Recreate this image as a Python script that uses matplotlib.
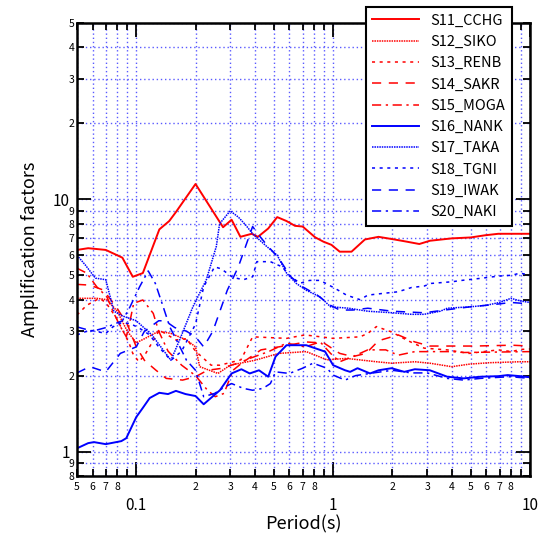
import matplotlib
matplotlib.use("Agg")
import matplotlib.pyplot as plt

plt.rcParams['font.family'] = ['Noto Sans CJK JP', 'DejaVu Sans']

# --------------------------------
# Data
# --------------------------------
s11_t = [0.05, 0.057, 0.07, 0.085, 0.096, 0.108, 0.131, 0.147, 0.159, 0.2, 0.276, 0.305, 0.338,
         0.386, 0.415, 0.468, 0.52, 0.58, 0.64, 0.70, 0.81, 0.89, 0.98, 1.08, 1.24, 1.45, 1.7,
         2.05, 2.35, 2.74, 3.1, 4.0, 5.0, 5.9, 6.9, 8.9, 10]
s11_v = [6.3, 6.4, 6.3, 5.87, 4.93, 5.1, 7.6, 8.2, 8.9, 11.5, 7.75, 8.3, 7.1,
         7.3, 7.1, 7.66, 8.5, 8.2, 7.85, 7.8, 7.07, 6.8, 6.6, 6.2, 6.2, 6.93, 7.1,
         6.93, 6.8, 6.65, 6.85, 7.0, 7.06, 7.2, 7.3, 7.3, 7.3]

s12_t = [0.05, 0.063, 0.071, 0.08, 0.09, 0.1, 0.11, 0.13, 0.15, 0.18, 0.2, 0.21, 0.26, 0.3,
         0.4, 0.53, 0.73, 0.93, 1.17, 1.66, 1.98, 2.6, 3.1, 4.0, 4.9, 6.2, 8.9, 10]
s12_v = [4.05, 4.05, 4.0, 3.6, 3.0, 2.7, 2.8, 3.0, 2.94, 2.77, 2.6, 2.17, 2.04, 2.2,
         2.3, 2.45, 2.49, 2.31, 2.34, 2.27, 2.24, 2.27, 2.24, 2.17, 2.22, 2.25, 2.27, 2.27]

s13_t = [0.05, 0.056, 0.065, 0.07, 0.079, 0.092, 0.096, 0.103, 0.11, 0.131, 0.159, 0.18, 0.2,
         0.24, 0.266, 0.34, 0.39, 0.58, 0.72, 1.0, 1.37, 1.5, 1.66, 1.98, 2.4, 2.9, 3.8, 4.9,
         6.9, 8.1, 8.9, 10]
s13_v = [3.48, 3.8, 4.05, 3.9, 3.4, 2.69, 2.45, 2.27, 2.4, 3.03, 2.77, 2.8, 2.5,
         2.2, 2.2, 2.31, 2.85, 2.81, 2.9, 2.81, 2.85, 2.94, 3.13, 2.98, 2.75, 2.57, 2.53, 2.45,
         2.53, 2.49, 2.54, 2.55]

s14_t = [0.05, 0.058, 0.068, 0.079, 0.09, 0.1, 0.11, 0.126, 0.142, 0.172, 0.2, 0.23, 0.275,
         0.36, 0.43, 0.53, 0.73, 0.9, 1.08, 1.26, 1.47, 1.7, 2.14, 2.6, 3.1, 4.0, 5.2, 8.1, 10]
s14_v = [4.6, 4.57, 4.37, 3.75, 3.2, 2.6, 2.3, 2.1, 1.95, 1.92, 1.98, 2.1, 2.14,
         2.3, 2.53, 2.6, 2.72, 2.69, 2.45, 2.38, 2.45, 2.75, 2.9, 2.72, 2.62, 2.62, 2.62, 2.64, 2.62]

s15_t = [0.05, 0.056, 0.063, 0.071, 0.077, 0.083, 0.089, 0.093, 0.097, 0.108, 0.122, 0.13,
         0.145, 0.17, 0.2, 0.23, 0.252, 0.279, 0.31, 0.36, 0.47, 0.58, 0.72, 0.86, 0.97, 1.08,
         1.26, 1.5, 1.85, 2.14, 2.6, 4.0, 4.6, 10]
s15_v = [5.33, 5.1, 4.5, 4.1, 3.53, 3.13, 2.85, 3.3, 3.87, 3.99, 3.53, 3.0,
         2.5, 2.2, 2.0, 1.75, 1.65, 1.7, 2.1, 2.31, 2.49, 2.69, 2.6, 2.72, 2.45, 2.27,
         2.38, 2.53, 2.53, 2.41, 2.49, 2.49, 2.47, 2.49]

s16_t = [0.05, 0.057, 0.061, 0.07, 0.084, 0.089, 0.1, 0.108, 0.117, 0.131, 0.145, 0.159, 0.178,
         0.2, 0.22, 0.266, 0.305, 0.342, 0.377, 0.42, 0.468, 0.51, 0.58, 0.73, 0.91, 1.0, 1.15,
         1.22, 1.33, 1.54, 1.7, 1.98, 2.3, 2.6, 3.1, 3.8, 4.6, 5.6, 6.9, 7.7, 8.9, 10]
s16_v = [1.03, 1.08, 1.09, 1.07, 1.10, 1.13, 1.37, 1.49, 1.63, 1.71, 1.69, 1.74, 1.69,
         1.66, 1.54, 1.75, 2.04, 2.12, 2.04, 2.10, 1.98, 2.38, 2.64, 2.64, 2.49, 2.2, 2.1,
         2.07, 2.14, 2.04, 2.1, 2.14, 2.07, 2.12, 2.1, 1.98, 1.95, 1.98, 1.99, 2.01, 1.99, 1.97]

s17_t = [0.05, 0.055, 0.062, 0.07, 0.077, 0.085, 0.1, 0.12, 0.15, 0.167, 0.194, 0.227, 0.255,
         0.265, 0.3, 0.33, 0.36, 0.39, 0.46, 0.52, 0.58, 0.65, 0.73, 0.86, 0.97, 1.2, 1.5, 2.0,
         2.5, 2.9, 3.5, 3.8, 5.0, 6.0, 7.0, 8.0, 9.0, 10]
s17_v = [6.0, 5.5, 4.87, 4.8, 3.6, 3.45, 3.3, 2.9, 2.3, 2.8, 3.75, 4.8, 6.5,
         8.0, 9.0, 8.5, 7.9, 7.3, 6.5, 6.0, 5.1, 4.64, 4.36, 4.1, 3.75, 3.7, 3.6, 3.55,
         3.5, 3.5, 3.6, 3.7, 3.75, 3.8, 3.9, 4.05, 3.95, 3.9]

s18_t = [0.05, 0.058, 0.07, 0.076, 0.083, 0.093, 0.104, 0.117, 0.13, 0.15, 0.17, 0.2, 0.22,
         0.25, 0.27, 0.31, 0.35, 0.39, 0.41, 0.48, 0.55, 0.61, 0.68, 0.76, 0.86, 1.02, 1.17,
         1.37, 1.5, 1.76, 2.14, 2.5, 2.9, 3.15, 4.0, 4.6, 5.6, 6.9, 8.1, 8.9, 10]
s18_v = [2.9, 3.03, 2.94, 3.12, 3.23, 3.22, 3.08, 2.9, 2.6, 2.3, 2.5, 3.2, 4.5,
         5.4, 5.3, 4.9, 4.8, 4.93, 5.66, 5.66, 5.4, 4.93, 4.65, 4.77, 4.77, 4.44, 4.17,
         4.0, 4.17, 4.23, 4.3, 4.47, 4.53, 4.64, 4.71, 4.78, 4.86, 4.96, 5.0, 5.1, 5.0]

s19_t = [0.05, 0.058, 0.07, 0.083, 0.1, 0.11, 0.13, 0.14, 0.157, 0.18, 0.2, 0.22, 0.245, 0.29,
         0.33, 0.39, 0.42, 0.46, 0.53, 0.61, 0.7, 0.83, 0.97, 1.08, 1.26, 1.5, 2.0, 2.9, 3.8,
         5.0, 6.0, 7.0, 8.0, 10]
s19_v = [2.05, 2.17, 2.07, 2.45, 2.6, 3.0, 3.3, 3.3, 3.1, 3.0, 2.85, 2.6, 3.0, 4.36,
         5.4, 7.8, 7.2, 6.6, 5.83, 4.93, 4.5, 4.17, 3.8, 3.64, 3.64, 3.7, 3.6, 3.55, 3.65,
         3.75, 3.8, 3.85, 3.9, 3.85]

s20_t = [0.05, 0.06, 0.07, 0.085, 0.093, 0.104, 0.115, 0.125, 0.137, 0.148, 0.16, 0.18, 0.2,
         0.22, 0.25, 0.28, 0.305, 0.35, 0.39, 0.44, 0.48, 0.51, 0.6, 0.7, 0.79, 0.93, 1.0, 1.15,
         1.3, 1.6, 2.0, 2.5, 3.0, 3.8, 4.6, 5.6, 7.0, 8.0, 10]
s20_v = [3.12, 3.0, 3.1, 3.3, 3.75, 4.5, 5.2, 4.64, 3.75, 3.12, 2.77, 2.3, 2.1,
         1.65, 1.7, 1.8, 1.86, 1.78, 1.75, 1.78, 1.86, 2.07, 2.04, 2.14, 2.24, 2.14, 2.01, 1.92,
         2.0, 2.05, 2.1, 2.05, 2.05, 1.95, 1.92, 1.95, 1.97, 1.98, 1.95]

station_names = ['S11_CCHG', 'S12_SIKO', 'S13_RENB', 'S14_SAKR', 'S15_MOGA',
                 'S16_NANK', 'S17_TAKA', 'S18_TGNI', 'S19_IWAK', 'S20_NAKI']

x_minor = [0.05, 0.06, 0.07, 0.08, 0.09, 0.2, 0.3, 0.4, 0.5, 0.6, 0.7, 0.8, 0.9,
           2, 3, 4, 5, 6, 7, 8, 9]
x_minor_labels = ['5', '6', '7', '8', '', '2', '3', '4', '5', '6', '7', '8', '',
                  '2', '3', '4', '5', '6', '7', '8', '']
y_minor = [0.8, 0.9, 2, 3, 4, 5, 6, 7, 8, 9, 20, 30, 40, 50]
y_minor_labels = ['8', '9', '2', '3', '4', '5', '6', '7', '8', '9', '2', '3', '4', '5']

# --------------------------------
# Plot
# --------------------------------
fig = plt.figure(figsize=(5.38, 5.41), dpi=100)
ax = fig.add_axes([77 / 538, 1 - 476 / 541, 453 / 538, 453 / 541])

series = [(s11_t, s11_v), (s12_t, s12_v), (s13_t, s13_v), (s14_t, s14_v), (s15_t, s15_v),
          (s16_t, s16_v), (s17_t, s17_v), (s18_t, s18_v), (s19_t, s19_v), (s20_t, s20_v)]
styles = ['-', (0, (1, 0.6)), (0, (2, 3)), (0, (6, 5)), (0, (6, 3, 1.5, 3)),
          '-', (0, (1, 0.6)), (0, (2, 3)), (0, (6, 5)), (0, (6, 3, 1.5, 3))]

for i, (t, v) in enumerate(series):
    color = '#ff0000' if i < 5 else '#0000ff'
    lw = 1.4 if styles[i] == '-' else 1.1
    ax.plot(t, v, color=color, linestyle=styles[i], lw=lw, label=station_names[i])

ax.set_xscale('log')
ax.set_yscale('log')
ax.set_xlim(0.05, 10)
ax.set_ylim(0.8, 50)

ax.set_xticks([0.1, 1, 10], ['0.1', '1', '10'])
ax.set_xticks(x_minor, x_minor_labels, minor=True)
ax.set_yticks([1, 10], ['1', '10'])
ax.set_yticks(y_minor, y_minor_labels, minor=True)

ax.tick_params(which='both', direction='in', top=True, right=True, width=1.3)
ax.tick_params(which='major', length=10, labelsize=11)
ax.tick_params(which='minor', length=5, labelsize=7.5)
ax.tick_params(axis='x', which='major', pad=15)
ax.tick_params(axis='x', which='minor', pad=4)
ax.tick_params(axis='y', which='minor', pad=2)
ax.tick_params(axis='y', which='major', pad=5)

ax.grid(True, which='both', color='#5a5aff', linestyle=(0, (1, 2)), lw=1.0)
for sp in ax.spines.values():
    sp.set_linewidth(1.8)

ax.set_xlabel('Period(s)', fontsize=13, labelpad=1)
ax.set_ylabel('Amplification factors', fontsize=13, labelpad=10)

leg = fig.legend(loc='upper right', bbox_to_anchor=(512 / 538, 1 - 7 / 541),
                 borderaxespad=0, fontsize=10.5, frameon=True, fancybox=False, framealpha=1,
                 edgecolor='black', handlelength=3.2, borderpad=0.45, labelspacing=0.5)
leg.get_frame().set_linewidth(1.5)

fig.savefig('out.png', dpi=100)
